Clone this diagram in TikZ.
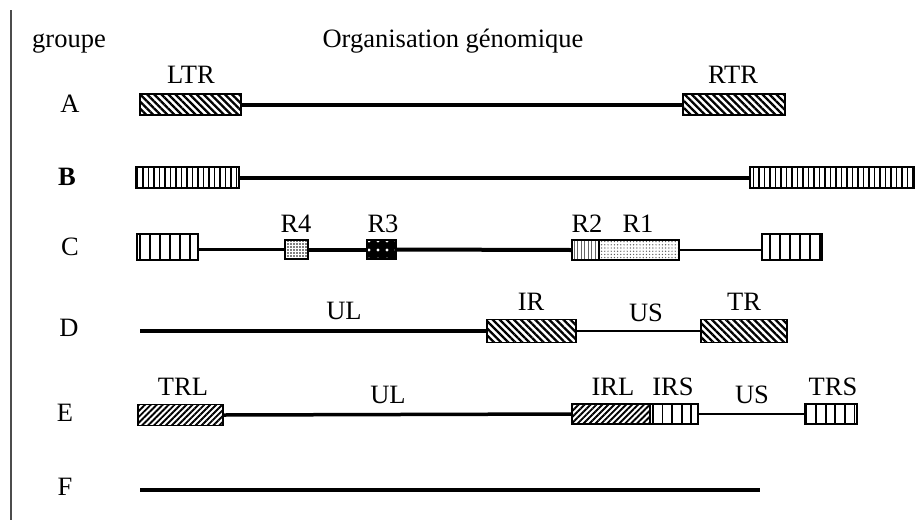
\documentclass[tikz,border=0pt]{standalone}
\usepackage{fontspec}
\setmainfont{Liberation Serif}
\usetikzlibrary{patterns,patterns.meta}
\begin{document}
\begin{tikzpicture}[x=1pt,y=-1pt,
  lab/.style={anchor=base,inner sep=0pt,font=\fontsize{26.5}{31}\selectfont},
  box/.style={draw=black,line width=1.9pt,inner sep=0pt,outer sep=0pt,rectangle},
  backhatch/.style={box,pattern={Lines[angle=-45,distance=5pt,line width=2.3pt]}},
  fwdhatch/.style={box,pattern={Lines[angle=45,distance=4.2pt,line width=1.9pt]}},
  densebars/.style={box,pattern={Lines[angle=90,distance=5.5pt,line width=1.8pt]}},
  widebars/.style={box,pattern={Lines[angle=90,distance=10pt,line width=1.8pt]}},
  midbars/.style={box,pattern={Lines[angle=90,distance=9.6pt,line width=1.8pt]}},
  checker/.style={box,pattern={Dots[distance=3pt,radius=0.95pt]}},
  blackdots/.style={box,preaction={fill=black},pattern={Dots[distance=9pt,radius=1.7pt]},pattern color=white},
  faintbars/.style={box,pattern={Lines[angle=90,distance=3.5pt,line width=0.9pt]},pattern color=black!60},
  stipple/.style={box,pattern={Dots[distance=3.2pt,radius=0.7pt]},pattern color=black!65},
  thickln/.style={line width=4pt},
  thinln/.style={line width=2.5pt},
]
\useasboundingbox (0,0) rectangle (915,520);
\fill[white] (0,0) rectangle (915,520);

% left rule
\coordinate (rtop) at (11,10);
\coordinate (rbot) at (11,520);
\draw[line width=1.4pt,black!70] (rtop) -- (rbot);

% headings
\node[lab] (hgroupe) at (69,47) {groupe};
\node[lab] (horg) at (453,47) {Organisation génomique};

% group letters
\node[lab] (gA) at (70,112) {A};
\node[lab] (gB) at (67,185) {\bfseries B};
\node[lab] (gC) at (70,255) {C};
\node[lab] (gD) at (69,336) {D};
\node[lab] (gE) at (65,421) {E};
\node[lab] (gF) at (65,495) {F};

% ---- A
\node[backhatch,minimum width=101pt,minimum height=21pt] (ltr) at (190.5,104.5) {};
\node[backhatch,minimum width=102pt,minimum height=21pt] (rtr) at (734,104.5) {};
\draw[thickln] (ltr.east) -- (rtr.west);
\node[lab] (lltr) at (191,83) {LTR};
\node[lab] (lrtr) at (733,83) {RTR};

% ---- B
\node[densebars,minimum width=103pt,minimum height=21pt] (bl) at (187.5,177.5) {};
\node[densebars,minimum width=164pt,minimum height=21pt] (br) at (832,177.5) {};
\draw[thickln] (bl.east) -- (br.west);

% ---- C
\node[widebars,minimum width=61pt,minimum height=26pt] (cl) at (167.5,247) {};
\node[checker,minimum width=23pt,minimum height=19pt] (r4) at (296.5,249.5) {};
\node[blackdots,minimum width=29pt,minimum height=19pt] (r3) at (381.5,249.5) {};
\node[faintbars,minimum width=27pt,minimum height=20pt] (r2) at (585.5,250) {};
\node[stipple,minimum width=80pt,minimum height=20pt] (r1) at (639,250) {};
\node[widebars,minimum width=60pt,minimum height=26pt] (cr) at (792,247) {};
\draw[thinln] (cl.east |- r4.west) -- (r4.west);
\draw[thickln] (r4.east) -- (r3.west);
\draw[thickln] (r3.east) -- (r2.west);
\draw[thinln] (r1.east) -- (cr.west |- r1.east);
\node[lab] (lr4) at (296,232) {R4};
\node[lab] (lr3) at (383,232) {R3};
\node[lab] (lr2) at (587,232) {R2};
\node[lab] (lr1) at (638,232) {R1};

% ---- D
\coordinate (dstart) at (140,331);
\node[backhatch,minimum width=89pt,minimum height=23pt] (ir) at (531.5,331) {};
\node[backhatch,minimum width=86pt,minimum height=23pt] (tr) at (744,331) {};
\draw[thickln] (dstart) -- (ir.west);
\draw[thinln] (ir.east) -- (tr.west);
\node[lab] (lul) at (344,319) {UL};
\node[lab] (lir) at (531,310) {IR};
\node[lab] (lus) at (646,321) {US};
\node[lab] (ltrd) at (744,310) {TR};

% ---- E
\node[fwdhatch,minimum width=85pt,minimum height=21pt] (trl) at (180.5,415) {};
\node[fwdhatch,minimum width=78pt,minimum height=20pt] (irl) at (611,414) {};
\node[midbars,minimum width=48pt,minimum height=20pt] (irs) at (674,414) {};
\node[midbars,minimum width=52pt,minimum height=20pt] (trs) at (831,414) {};
\draw[line width=3.5pt] (trl.east) -- (irl.west);
\draw[thinln] (irs.east) -- (trs.west);
\node[lab] (ltrl) at (183,395) {TRL};
\node[lab] (lule) at (388,403) {UL};
\node[lab] (lirl) at (613,395) {IRL};
\node[lab] (lirs) at (673,395) {IRS};
\node[lab] (luse) at (752,403) {US};
\node[lab] (ltrs) at (833,395) {TRS};

% ---- F
\coordinate (fstart) at (140,490);
\coordinate (fend) at (760,490);
\draw[line width=4.5pt] (fstart) -- (fend);
\end{tikzpicture}
\end{document}
